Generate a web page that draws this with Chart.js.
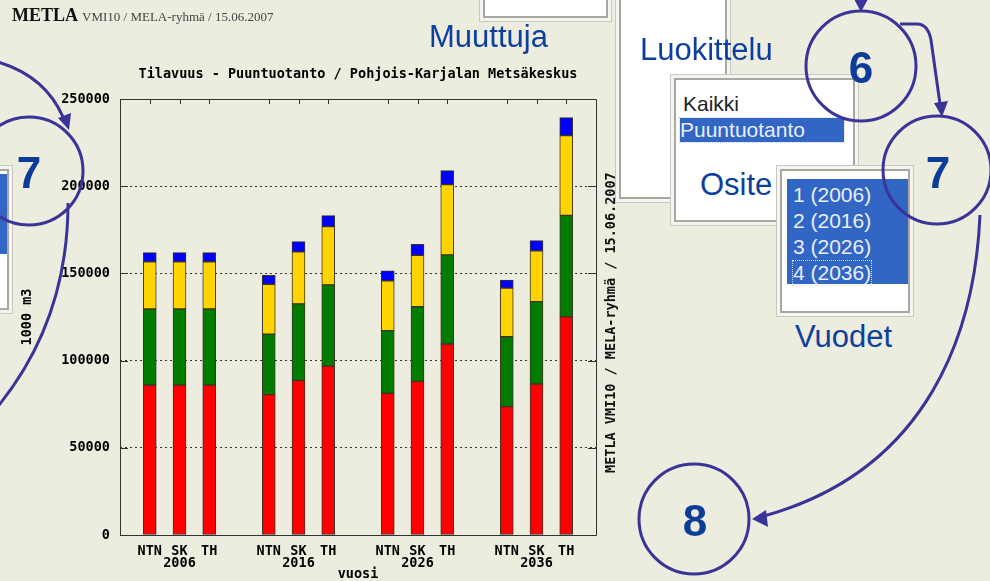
<!DOCTYPE html>
<html>
<head>
<meta charset="utf-8">
<script src="https://cdn.jsdelivr.net/npm/chart.js@4.4.1/dist/chart.umd.min.js"></script>
<style>
    body { margin: 0; background: #ececdf; }
    #sivu { position: relative; width: 990px; height: 581px; overflow: hidden; background: #ececdf; }
    #kaavio { position: absolute; left: 0; top: 0; }
    .otsake { position: absolute; left: 12px; top: 5px; font-family: 'Liberation Serif', serif; color: #222; white-space: nowrap; }
    .otsake b { font-size: 18px; color: #111; }
    .otsake span { font-size: 13px; color: #444; }
    .sininen { position: absolute; font-family: 'Liberation Sans', Arial, sans-serif; font-size: 31px; line-height: 31px; color: #0c3f9e; white-space: nowrap; }
    .laatikko { position: absolute; background: #fff; border: 1px solid #c8c8c0; box-shadow: inset 0 0 0 3px #f4f4f0, inset 0 0 0 5px #a8a8a0; }
    .rivi { position: absolute; font-family: 'Liberation Sans', Arial, sans-serif; font-size: 21px; line-height: 24px; white-space: nowrap; }
    .valittu { background: #3266c4; color: #e8eeff; }
    #sivuteksti { position: absolute; left: 603px; top: 473px; transform-origin: 0 0; transform: rotate(-90deg);
        font-family: 'DejaVu Sans Mono', monospace; font-weight: bold; font-size: 13.5px; line-height: 14px; white-space: nowrap; color: #111; }
    svg { position: absolute; left: 0; top: 0; }
</style>
</head>
<body>
<div id="sivu">
    <canvas id="kaavio" width="606" height="581"></canvas>

    <div class="otsake"><b>METLA</b> <span>VMI10 / MELA-ryhmä / 15.06.2007</span></div>
    <div id="sivuteksti">METLA VMI10 / MELA-ryhmä / 15.06.2007</div>

    <!-- valintalistat -->
    <div class="laatikko" style="left:479px; top:-10px; width:131px; height:30px;"></div>
    <div class="laatikko" style="left:615px; top:-10px; width:114px; height:211px;"></div>
    <div class="laatikko" style="left:670px; top:74px; width:187px; height:150px;">
        <div class="rivi" style="left:12px; top:17px; color:#222;">Kaikki</div>
        <div class="rivi valittu" style="left:9px; top:43px; width:164px; outline:1px dotted #ccd;">Puuntuotanto</div>
    </div>
    <div class="laatikko" style="left:776px; top:165px; width:136px; height:150px;">
        <div class="rivi valittu" style="left:10px; top:13px; width:121px; height:105px;"></div>
        <div class="rivi" style="left:16px; top:17px; color:#e8eeff;">1 (2006)</div>
        <div class="rivi" style="left:16px; top:43px; color:#e8eeff;">2 (2016)</div>
        <div class="rivi" style="left:16px; top:69px; color:#e8eeff;">3 (2026)</div>
        <div class="rivi" style="left:16px; top:95px; color:#e8eeff; outline:1px dotted #dde;">4 (2036)</div>
    </div>
    <div class="laatikko" style="left:-130px; top:165px; width:141px; height:147px;">
        <div class="rivi valittu" style="left:10px; top:8px; width:126px; height:80px;"></div>
    </div>

    <div class="sininen" style="left:429px; top:21px;">Muuttuja</div>
    <div class="sininen" style="left:640px; top:34px;">Luokittelu</div>
    <div class="sininen" style="left:700px; top:169px;">Osite</div>
    <div class="sininen" style="left:795px; top:321px;">Vuodet</div>

    <svg width="990" height="581">
        <g fill="none" stroke="#3a3499" stroke-width="3">
            <circle cx="861" cy="66" r="55"/>
            <circle cx="937" cy="170" r="54"/>
            <circle cx="694" cy="519" r="55"/>
            <circle cx="29" cy="171" r="54"/>
            <path d="M861 -5 L861 2"/>
            <path d="M900 24 L917 24 Q928 24 931 40 L940 104"/>
            <path d="M980 215 C975 330 930 470 764 516"/>
            <path d="M-2 62 Q45 76 63 117"/>
            <path d="M68 203 C68 280 45 350 -5 410"/>
        </g>
        <g fill="#3a3499">
            <polygon points="854,-1 868,-1 861,12"/>
            <polygon points="934,103 948,101 942,117"/>
            <polygon points="766,510 768,527 752,519"/>
            <polygon points="58,118 71,113 69,130"/>
        </g>
        <g fill="#0b3c97" font-family="Liberation Sans, Arial, sans-serif" font-weight="bold" font-size="44" text-anchor="middle">
            <text x="861" y="83">6</text>
            <text x="938" y="188">7</text>
            <text x="695" y="536">8</text>
            <text x="29" y="188">7</text>
        </g>
    </svg>
</div>

<script>
// vuodet ja laskelmat (NTN, SK, TH)
var vuodet = ['2006', '2016', '2026', '2036'];
var laskelmat = ['NTN', 'SK', 'TH'];

// tilavuus 1000 m3, jarjestys: 2006 NTN, SK, TH, 2016 NTN, ...
var punainen  = [86000, 86000, 86000, 80500, 88700, 96900, 81300, 88100, 109500, 73600, 86600, 125200];
var vihrea    = [43600, 43600, 43600, 34600, 43800, 46500, 35900, 42800, 51100, 40100, 47200, 58100];
var keltainen = [27100, 27100, 27100, 28700, 29800, 33400, 28600, 29500, 40300, 27900, 29100, 45700];
var sininen   = [5200, 5200, 5200, 5100, 5900, 6300, 5700, 6300, 8000, 4600, 5900, 10300];

var yMin = 0, yMax = 250000, yAskel = 50000;

var fontti = { family: "'DejaVu Sans Mono', monospace", weight: 'bold', size: 13.5, lineHeight: 0.92 };

// tyhjat paikat ryhmien valiin
var nimet = [''];
vuodet.forEach(function (v) {
    laskelmat.forEach(function (l, j) {
        nimet.push(j === 1 ? [l, v] : l);
    });
    nimet.push('');
});

function levita(arvot) {
    var tulos = [null];
    for (var i = 0; i < vuodet.length; i++) {
        for (var j = 0; j < laskelmat.length; j++) {
            tulos.push(arvot[i * laskelmat.length + j]);
        }
        tulos.push(null);
    }
    return tulos;
}

function sarja(arvot, vari) {
    return {
        data: levita(arvot),
        backgroundColor: vari,
        borderColor: '#3a3328',
        borderWidth: 1,
        borderSkipped: false,
        barThickness: 13
    };
}

// laatikko ja sisaanpain osoittavat tikut
var kehys = {
    id: 'kehys',
    afterDraw: function (chart) {
        var ctx = chart.ctx, a = chart.chartArea;
        var x = chart.scales.x, y = chart.scales.y;
        ctx.save();
        ctx.strokeStyle = '#333';
        ctx.lineWidth = 1;
        ctx.beginPath();
        ctx.rect(Math.round(a.left) + 0.5, Math.round(a.top) + 0.5, Math.round(a.right - a.left), Math.round(a.bottom - a.top));
        y.ticks.forEach(function (t, i) {
            var py = Math.round(y.getPixelForTick(i)) + 0.5;
            ctx.moveTo(a.left, py); ctx.lineTo(a.left + 8, py);
            ctx.moveTo(a.right - 8, py); ctx.lineTo(a.right, py);
        });
        nimet.forEach(function (n, i) {
            if (n === '') return;
            var px = Math.round(x.getPixelForValue(i)) + 0.5;
            ctx.moveTo(px, a.top); ctx.lineTo(px, a.top + 5);
        });
        ctx.stroke();
        ctx.restore();
    }
};

new Chart(document.getElementById('kaavio'), {
    type: 'bar',
    data: {
        labels: nimet,
        datasets: [
            sarja(punainen, '#ff0000'),
            sarja(vihrea, '#007d00'),
            sarja(keltainen, '#ffd400'),
            sarja(sininen, '#0000ff')
        ]
    },
    options: {
        responsive: false,
        animation: false,
        layout: { padding: 0 },
        plugins: {
            legend: { display: false },
            tooltip: { enabled: false }
        },
        scales: {
            x: {
                stacked: true,
                offset: false,
                grid: { display: false, drawTicks: false },
                border: { display: false },
                ticks: { autoSkip: false, maxRotation: 0, padding: 10, color: '#000', font: fontti },
                title: { display: true, text: 'vuosi', color: '#000', font: { family: fontti.family, weight: 'bold', size: 13.5, lineHeight: 1 }, padding: 0 },
                afterFit: function (s) { s.height = 46; }
            },
            xYla: {
                type: 'category',
                position: 'top',
                offset: false,
                grid: { display: false, drawTicks: false },
                border: { display: false },
                ticks: { display: false },
                title: {
                    display: true,
                    text: 'Tilavuus - Puuntuotanto / Pohjois-Karjalan Metsäkeskus',
                    color: '#000',
                    font: { family: fontti.family, weight: 'bold', size: 13.5, lineHeight: 1 },
                    padding: { top: 68, bottom: 0 }
                },
                afterFit: function (s) { s.height = 99; }
            },
            y: {
                stacked: true,
                min: yMin,
                max: yMax,
                grid: { color: '#333', lineWidth: 1, drawTicks: false, borderDash: [2, 3] },
                border: { display: false, dash: [2, 3] },
                ticks: {
                    stepSize: yAskel,
                    padding: 10,
                    color: '#000',
                    font: fontti,
                    callback: function (v) { return String(v); }
                },
                title: {
                    display: true,
                    text: '1000 m3',
                    color: '#000',
                    font: { family: fontti.family, weight: 'bold', size: 13.5, lineHeight: 1 },
                    padding: { top: 21, bottom: 0 }
                },
                afterFit: function (s) { s.width = 120; }
            }
        }
    },
    plugins: [kehys]
});
</script>
</body>
</html>
